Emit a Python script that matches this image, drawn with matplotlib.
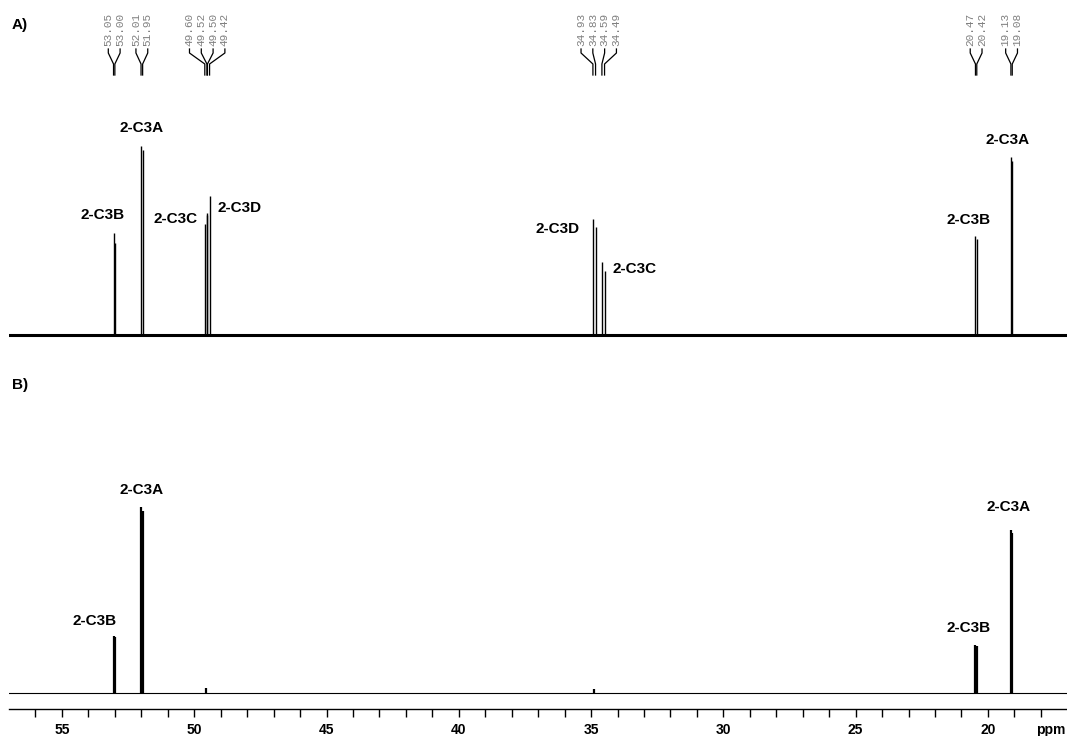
import matplotlib
matplotlib.use("Agg")
import matplotlib.pyplot as plt
from matplotlib.lines import Line2D
from matplotlib.ticker import MultipleLocator

# peak list (ppm) and intensities
peaks_ppm = [53.05, 53.00, 52.01, 51.95, 49.60, 49.52, 49.50, 49.42,
             34.93, 34.83, 34.59, 34.49, 20.47, 20.42, 19.13, 19.08]
top_int = [54.0, 48.7, 100.0, 97.9, 58.7, 64.5, 63.5, 73.5,
           61.5, 57.3, 38.8, 34.0, 52.5, 51.0, 94.3, 92.0]

bot_ppm = [53.05, 53.00, 52.01, 51.95, 49.55, 34.90, 20.47, 20.42, 19.13, 19.08]
bot_int = [30.6, 30.0, 100.0, 98.0, 2.5, 2.0, 25.8, 25.5, 87.6, 86.0]

# multiplet groups for the peak-pick labels on top
groups = [[53.05, 53.00], [52.01, 51.95], [49.60, 49.52, 49.50, 49.42],
          [34.93, 34.83, 34.59, 34.49], [20.47, 20.42], [19.13, 19.08]]

# assignment labels: (text, ppm, intensity)
top_labels = [("2-C3B", 53.47, 63.5), ("2-C3A", 52.0, 109.5),
              ("2-C3C", 50.71, 61.4), ("2-C3D", 48.28, 67.2),
              ("2-C3D", 36.28, 56.0), ("2-C3C", 33.37, 34.9),
              ("2-C3B", 20.72, 60.8), ("2-C3A", 19.24, 103.2)]
bot_labels = [("2-C3B", 53.77, 38.7), ("2-C3A", 52.0, 109.0),
              ("2-C3B", 20.72, 35.0), ("2-C3A", 19.2, 100.0)]

W, H = 1067, 736
x_lim = (56.99, 17.01)

fig = plt.figure(figsize=(W / 100, H / 100), dpi=100)


def box(left, top, right, bottom):
    return [left / W, 1 - bottom / H, (right - left) / W, (bottom - top) / H]


lbl_font = dict(family=["Liberation Sans", "DejaVu Sans"], fontweight="bold", fontsize=11)
narrow = ["Liberation Sans Narrow", "Liberation Sans", "DejaVu Sans"]

# --- A) top spectrum
ax1 = fig.add_axes(box(9.3, 80, W, 345))
ax1.set_xlim(*x_lim)
ax1.set_ylim(-5.3, 134.9)
ax1.axis("off")
ax1.axhline(0, color="black", lw=2.2)
ax1.vlines(peaks_ppm, 0, top_int, color="black", lw=1.0)
for t, xp, yp in top_labels:
    ax1.text(xp, yp, t, ha="center", va="center", **lbl_font)

# --- B) bottom spectrum
ax2 = fig.add_axes(box(9.3, 420, W, 709))
ax2.set_xlim(*x_lim)
ax2.set_ylim(-8.6, 146.8)
for s in ["top", "left", "right"]:
    ax2.spines[s].set_visible(False)
ax2.spines["bottom"].set_linewidth(1.0)
ax2.set_yticks([])
ax2.axhline(0, color="black", lw=0.8)
ax2.vlines(bot_ppm, 0, bot_int, color="black", lw=1.6)
for t, xp, yp in bot_labels:
    ax2.text(xp, yp, t, ha="center", va="center", **lbl_font)

ax2.xaxis.set_major_locator(MultipleLocator(5))
ax2.xaxis.set_minor_locator(MultipleLocator(1))
ax2.tick_params(axis="x", which="both", direction="out", length=6, width=1.0)
ax2.set_xticks([55, 50, 45, 40, 35, 30, 25, 20])
ax2.set_xticklabels(["55", "50", "45", "40", "35", "30", "25", "20"])
for lab in ax2.get_xticklabels():
    lab.set_fontfamily(narrow)
    lab.set_fontweight("bold")
    lab.set_fontsize(10)
ax2.tick_params(axis="x", pad=4)
fig.text(1065 / W, 1 - 730 / H, "ppm", ha="right", va="center",
         family=narrow, fontweight="bold", fontsize=10)

fig.text(12 / W, 1 - 25 / H, "A)", ha="left", va="center", **lbl_font)
fig.text(12 / W, 1 - 385 / H, "B)", ha="left", va="center", **lbl_font)

# --- peak-pick labels with connecting lines
fig.canvas.draw()
to_px = ax1.transData
spacing = 11.8
for g in groups:
    pxs = [to_px.transform((p, 0))[0] for p in g]
    centre = sum(pxs) / len(pxs)
    n = len(g)
    for i, (p, xpk) in enumerate(zip(g, pxs)):
        lx = centre + (i - (n - 1) / 2) * spacing
        fig.text(lx / W, 1 - 46 / H, f"{p:.2f}", rotation=90, ha="center", va="bottom",
                 family=["Liberation Mono", "DejaVu Sans Mono"], fontsize=8, color="#808080")
        xs = [lx, lx, xpk, xpk]
        ys = [49, 53, 64, 75]
        fig.add_artist(Line2D([x / W for x in xs], [1 - y / H for y in ys],
                              transform=fig.transFigure, color="black", lw=0.9))

fig.savefig("out.png", dpi=100)
